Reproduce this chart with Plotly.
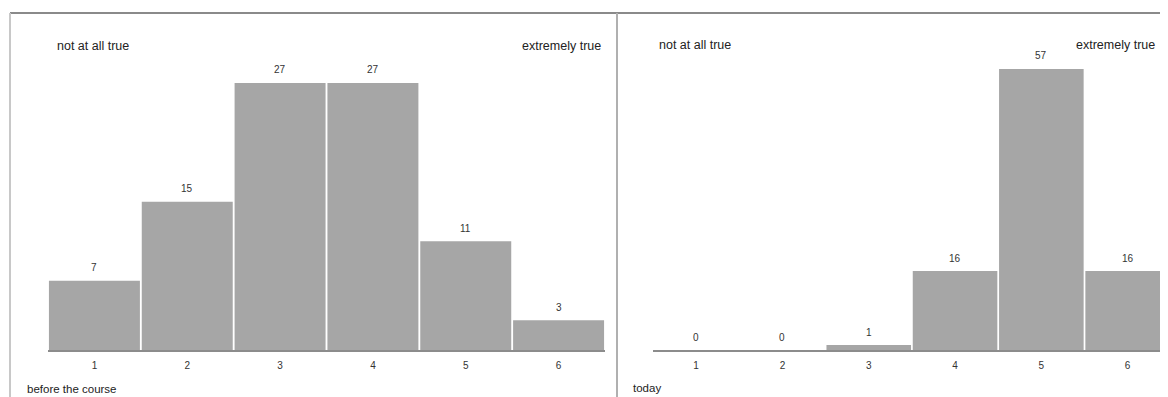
import plotly.graph_objects as go

# the page places the figure 8px in from the top-left corner of the window
OFF = 8
RIGHT = 1160  # right edge of the visible area in the window
W, H = RIGHT - OFF, 397 - OFF

categories = [1, 2, 3, 4, 5, 6]
before_values = [7, 15, 27, 27, 11, 3]
today_values = [0, 0, 1, 16, 57, 16]
tick_labels = ["1", "2", "3", "4", "5", "6"]
panel_names = ["before the course", "today"]
low_label = "not at all true"
high_label = "extremely true"

BAR = "#a6a6a6"
LINE = "#8c8c8c"
FONT = "Liberation Sans"


def fx(x):
    return (x - OFF) / W


def fy(y):
    return 1 - (y - OFF) / H


fig = go.Figure()
fig.add_trace(go.Bar(x=categories, y=before_values, marker_color=BAR,
                     marker_line_width=0, xaxis="x", yaxis="y", hoverinfo="skip"))
fig.add_trace(go.Bar(x=categories, y=today_values, marker_color=BAR,
                     marker_line_width=0, xaxis="x2", yaxis="y2", hoverinfo="skip"))

val_font = dict(size=10, color="#333", family=FONT)
annotations = []
for c, v in zip(categories, before_values):
    annotations.append(dict(x=c, y=v, xref="x", yref="y", text=str(v), showarrow=False,
                            yshift=13, font=val_font))
for c, v in zip(categories, today_values):
    annotations.append(dict(x=c, y=v, xref="x2", yref="y2", text=str(v), showarrow=False,
                            yshift=13, font=val_font))

corner_font = dict(size=12.5, color="#222", family=FONT)
annotations += [
    dict(x=fx(55), y=fy(46), xref="paper", yref="paper", text=low_label, showarrow=False,
         xanchor="left", yanchor="middle", font=corner_font),
    dict(x=fx(603), y=fy(46), xref="paper", yref="paper", text=high_label, showarrow=False,
         xanchor="right", yanchor="middle", font=corner_font),
    dict(x=fx(657), y=fy(45), xref="paper", yref="paper", text=low_label, showarrow=False,
         xanchor="left", yanchor="middle", font=corner_font),
    dict(x=fx(1157), y=fy(45), xref="paper", yref="paper", text=high_label, showarrow=False,
         xanchor="right", yanchor="middle", font=corner_font),
    dict(x=fx(25), y=fy(389), xref="paper", yref="paper", text=panel_names[0], showarrow=False,
         xanchor="left", yanchor="middle", font=dict(size=11.5, color="#222", family=FONT)),
    dict(x=fx(631), y=fy(388), xref="paper", yref="paper", text=panel_names[1], showarrow=False,
         xanchor="left", yanchor="middle", font=dict(size=11.5, color="#222", family=FONT)),
]

shapes = [
    dict(type="line", xref="paper", yref="paper", x0=fx(10), x1=1, y0=fy(13), y1=fy(13),
         line=dict(color="#8a8a8a", width=2)),
    dict(type="line", xref="paper", yref="paper", x0=fx(10), x1=fx(10), y0=fy(13), y1=0,
         line=dict(color="#c8c8c8", width=2)),
    dict(type="line", xref="paper", yref="paper", x0=fx(617), x1=fx(617), y0=fy(13), y1=0,
         line=dict(color="#b0b0b0", width=2)),
]

ax_common = dict(showgrid=False, zeroline=False, showline=True, linecolor=LINE, linewidth=2,
                 ticks="outside", ticklen=5, tickcolor="rgba(0,0,0,0)",
                 tickfont=dict(size=10, color="#333", family=FONT),
                 tickmode="array", tickvals=categories, ticktext=tick_labels)
y_common = dict(showgrid=False, zeroline=False, showline=False, showticklabels=False,
                domain=[fy(350), fy(50)])

fig.update_layout(
    width=W, height=H,
    margin=dict(l=0, r=0, t=0, b=0),
    paper_bgcolor="white", plot_bgcolor="white",
    showlegend=False,
    bargap=0.02,
    xaxis=dict(domain=[fx(48), fx(605)], range=[0.5, 6.5], anchor="y", **ax_common),
    yaxis=dict(range=[0, 300 / 9.889], anchor="x", **y_common),
    xaxis2=dict(domain=[fx(653), 1.0], range=[0.5, 0.5 + (RIGHT - 653) / 86.3], anchor="y2", **ax_common),
    yaxis2=dict(range=[0, 300 / 4.93], anchor="x2", **y_common),
    annotations=annotations,
    shapes=shapes,
)

fig.write_html("out.html")
